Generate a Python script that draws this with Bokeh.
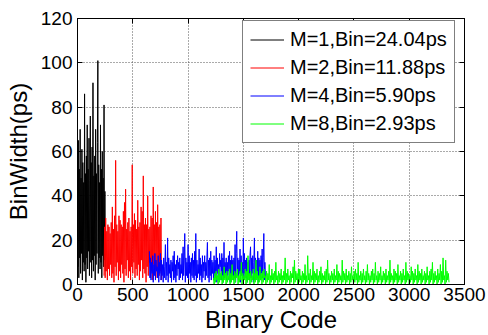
from bokeh.plotting import figure
from bokeh.models import Range1d, LinearAxis, FixedTicker
from bokeh.embed import file_html
from bokeh.resources import INLINE

# ---------------- data ----------------
x_ticks = [0, 500, 1000, 1500, 2000, 2500, 3000, 3500]
y_ticks = [0, 20, 40, 60, 80, 100, 120]

labels = ["M=1,Bin=24.04ps", "M=2,Bin=11.88ps", "M=4,Bin=5.90ps", "M=8,Bin=2.93ps"]

# M=1 : codes 0..252 step 4
m1_start, m1_step = 0, 4
m1_values = [58, 8, 65, 3, 52, 12, 70, 5, 48, 14, 61, 2, 55, 10, 46, 6,
             86, 9, 50, 1, 58, 12, 72, 7, 52, 15, 66, 4, 47, 76, 10, 55,
             3, 62, 11, 91, 6, 49, 13, 58, 2, 70, 9, 50, 14, 64, 101, 5,
             54, 12, 46, 7, 72, 10, 52, 3, 60, 13, 48, 8, 81, 11, 42, 6]

# M=2 : codes 240..760 step 5
m2_start, m2_step = 240, 5
m2_values = [4, 26, 3, 30, 6, 24, 2, 27, 7, 26, 4, 23, 9, 28, 3, 35, 5, 25, 1, 31,
             8, 56, 4, 27, 10, 24, 2, 31, 6, 29, 3, 27, 9, 26, 5, 33, 1, 37, 7, 43,
             4, 25, 11, 28, 3, 30, 6, 24, 2, 26, 8, 54, 5, 27, 10, 32, 3, 29, 7, 25,
             4, 38, 9, 26, 2, 28, 6, 35, 11, 33, 3, 49, 7, 27, 5, 30, 1, 27, 8, 40,
             4, 25, 10, 26, 3, 31, 6, 30, 2, 44, 9, 27, 5, 33, 7, 28, 3, 36, 8, 26,
             4, 27, 6, 30, 2]

# M=4 : codes 650..1700 step 5
m4_start, m4_step = 650, 5
m4_values = [15, 3, 12, 2, 10, 5, 13, 1, 9, 4, 14, 2, 11, 6, 8, 3, 13, 1, 10, 5,
             14, 2, 11, 4, 9, 1, 12, 3, 8, 18, 2, 10, 4, 21, 1, 12, 5, 9, 3, 11,
             1, 10, 6, 13, 2, 15, 3, 9, 1, 11, 4, 13, 7, 10, 2, 12, 3, 9, 5, 14,
             2, 17, 4, 11, 23, 1, 12, 4, 10, 3, 18, 2, 13, 5, 10, 1, 12, 4, 14, 3,
             11, 2, 15, 4, 23, 1, 11, 3, 9, 5, 16, 2, 12, 4, 9, 1, 13, 3, 10, 6,
             13, 2, 10, 4, 12, 19, 3, 11, 1, 12, 4, 15, 2, 11, 5, 10, 2, 13, 4, 11,
             3, 17, 1, 12, 5, 9, 2, 14, 8, 11, 2, 14, 4, 12, 1, 19, 3, 10, 5, 12,
             2, 10, 4, 13, 6, 15, 1, 11, 3, 13, 5, 11, 2, 12, 3, 18, 1, 14, 24, 4,
             12, 2, 11, 5, 16, 1, 13, 4, 10, 3, 21, 2, 14, 5, 11, 3, 12, 1, 10, 4,
             11, 2, 13, 17, 3, 12, 5, 13, 1, 10, 21, 2, 12, 4, 11, 3, 15, 1, 12, 4,
             11, 2, 13, 5, 16, 3, 12, 23, 2, 10, 3]

# M=8 : codes 1230..3360 step 6
m8_start, m8_step = 1230, 6
m8_values = [3, 0, 5, 1, 6, 2, 4, 0, 7, 1, 5, 2, 6, 0, 4, 1, 8, 2, 5, 0,
             6, 1, 4, 2, 7, 0, 5, 1, 9, 2, 4, 0, 6, 1, 5, 3, 7, 0, 4, 1,
             6, 2, 10, 0, 5, 1, 4, 2, 7, 0, 6, 1, 13, 2, 5, 0, 6, 1, 4, 2,
             7, 0, 5, 1, 11, 2, 6, 0, 4, 1, 8, 2, 5, 0, 6, 1, 7, 3, 4, 0,
             6, 1, 5, 2, 9, 0, 4, 1, 7, 2, 5, 0, 6, 1, 10, 2, 4, 0, 6, 1,
             5, 2, 7, 0, 4, 1, 6, 2, 12, 0, 5, 1, 7, 2, 4, 0, 6, 1, 5, 3,
             8, 0, 11, 1, 6, 2, 5, 0, 7, 1, 7, 2, 4, 0, 6, 1, 5, 2, 9, 0,
             4, 1, 13, 2, 5, 0, 7, 1, 4, 2, 10, 0, 6, 1, 5, 2, 7, 0, 4, 1,
             6, 2, 8, 0, 5, 1, 4, 2, 6, 0, 7, 1, 11, 2, 5, 0, 4, 1, 6, 2,
             5, 0, 7, 1, 4, 2, 9, 0, 6, 1, 5, 2, 4, 0, 11, 1, 6, 2, 5, 0,
             7, 1, 4, 2, 6, 0, 5, 1, 8, 2, 4, 0, 6, 1, 7, 2, 5, 0, 10, 1,
             4, 2, 6, 0, 5, 1, 7, 2, 4, 0, 6, 1, 9, 2, 5, 0, 4, 1, 6, 2,
             7, 0, 5, 1, 10, 2, 4, 0, 6, 1, 5, 2, 8, 0, 4, 1, 6, 2, 5, 0,
             7, 1, 4, 2, 6, 0, 11, 1, 5, 2, 4, 0, 7, 1, 6, 2, 5, 0, 9, 1,
             4, 2, 6, 0, 5, 1, 7, 2, 4, 0, 10, 1, 6, 2, 5, 0, 4, 1, 8, 2,
             6, 0, 5, 1, 7, 2, 4, 0, 9, 1, 6, 2, 5, 0, 7, 1, 4, 2, 6, 0,
             5, 1, 8, 2, 4, 0, 6, 1, 7, 2, 10, 0, 5, 1, 6, 2, 4, 0, 7, 1,
             5, 2, 9, 0, 6, 1, 12, 2, 4, 0, 11, 1, 6, 2, 5, 1]

series = [
    (m1_start, m1_step, m1_values, "#000000"),
    (m2_start, m2_step, m2_values, "#ff0000"),
    (m4_start, m4_step, m4_values, "#0000ff"),
    (m8_start, m8_step, m8_values, "#00ff00"),
]

FONT = "Liberation Sans"

p = figure(width=488, height=335, output_backend="svg", toolbar_location=None,
           x_range=Range1d(0, 3500), y_range=Range1d(0, 120),
           min_border_left=77, min_border_right=24, min_border_top=18,
           min_border_bottom=49)

for (start, step, vals, color), lab in zip(series, labels):
    xs = [start + i * step for i in range(len(vals))]
    p.line(xs, vals, line_color=color, line_width=1.0, legend_label=lab)

p.background_fill_color = "white"
p.border_fill_color = "white"
p.outline_line_color = "black"
p.outline_line_width = 1

for ax in (p.xaxis[0], p.yaxis[0]):
    ax.axis_line_color = "black"
    ax.major_tick_in = 5
    ax.major_tick_out = 0
    ax.minor_tick_line_color = None
    ax.major_tick_line_color = "black"
    ax.major_label_text_font = FONT
    ax.major_label_text_font_size = "19px"
    ax.major_label_text_color = "black"
    ax.axis_label_text_font = FONT
    ax.axis_label_text_font_size = "24px"
    ax.axis_label_text_font_style = "normal"
    ax.axis_label_text_color = "black"

p.xaxis.ticker = FixedTicker(ticks=x_ticks)
p.yaxis.ticker = FixedTicker(ticks=y_ticks)
p.xaxis.axis_label = "Binary Code"
p.yaxis.axis_label = "BinWidth(ps)"
p.xaxis.major_label_standoff = 3
p.xaxis.axis_label_standoff = 2
p.yaxis.major_label_standoff = 5
p.yaxis.axis_label_standoff = 6

for loc, ticks in (("above", x_ticks), ("right", y_ticks)):
    ax = LinearAxis(ticker=FixedTicker(ticks=ticks), major_label_text_font_size="0px",
                    major_tick_in=5, major_tick_out=0, minor_tick_line_color=None,
                    axis_line_color="black", major_label_standoff=0)
    p.add_layout(ax, loc)

p.xgrid.ticker = FixedTicker(ticks=x_ticks)
p.ygrid.ticker = FixedTicker(ticks=y_ticks)
p.grid.grid_line_color = "#555555"
p.grid.grid_line_dash = "1 2"
p.grid.grid_line_width = 1

lg = p.legend[0]
lg.location = (165, 141)
lg.border_line_color = "black"
lg.border_line_width = 1
lg.background_fill_color = "white"
lg.background_fill_alpha = 1
lg.label_text_font = FONT
lg.label_text_font_size = "20px"
lg.label_text_color = "black"
lg.glyph_width = 34
lg.glyph_height = 19
lg.label_height = 19
lg.spacing = 5
lg.padding = 7
lg.label_standoff = 6
lg.margin = 0

open("out.html", "w").write(file_html(p, INLINE))
